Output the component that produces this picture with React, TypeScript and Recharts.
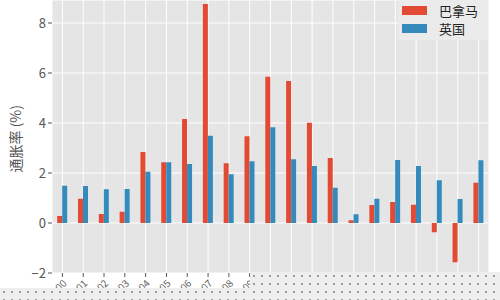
import React from 'react';
import { BarChart, Bar, XAxis, YAxis, CartesianGrid } from 'recharts';

const years = [
  '2000', '2001', '2002', '2003', '2004', '2005', '2006', '2007', '2008', '2009', '2010',
  '2011', '2012', '2013', '2014', '2015', '2016', '2017', '2018', '2019', '2020',
];
const panama = [0.28, 0.97, 0.36, 0.45, 2.84, 2.43, 4.16, 8.76, 2.39, 3.47, 5.85, 5.68, 4.01, 2.6, 0.11, 0.72, 0.84, 0.73, -0.37, -1.57, 1.61];
const uk = [1.49, 1.48, 1.35, 1.36, 2.05, 2.43, 2.36, 3.49, 1.95, 2.47, 3.83, 2.55, 2.28, 1.41, 0.35, 0.97, 2.52, 2.28, 1.71, 0.96, 2.51];
const yTicks = [-2, 0, 2, 4, 6, 8];
const legendItems = [
  { name: '巴拿马', color: '#E24A33' },
  { name: '英国', color: '#348ABD' },
];

const data = years.map((y, i) => ({ year: y, panama: panama[i], uk: uk[i] }));

const FONT = '"Noto Sans CJK SC", "DejaVu Sans", sans-serif';
const dots = {
  background: '#eeeeee',
  backgroundImage: 'radial-gradient(#9a9a9a 0.8px, transparent 1.2px)',
  backgroundSize: '8px 8px',
};

export default function App() {
  return (
    <div style={{ position: 'absolute', left: 0, top: 0, width: 500, height: 300, background: '#fff', fontFamily: FONT }}>
      <BarChart
        width={500}
        height={300}
        data={data}
        margin={{ top: 0, right: 11, bottom: 0, left: 0 }}
        barCategoryGap="25%"
        barGap={0}
      >
        {/* ggplot-ish panel */}
        <CartesianGrid stroke="#ffffff" strokeWidth={1} fill="#E5E5E5" />
        <XAxis
          dataKey="year"
          height={27}
          axisLine={false}
          tickLine={{ stroke: '#555', strokeWidth: 1 }}
          tickSize={4}
          interval={0}
          angle={-45}
          textAnchor="end"
          tick={{ fill: '#666', fontSize: 10, fontFamily: FONT }}
        />
        <YAxis
          width={52}
          domain={[-2, 8.92]}
          ticks={yTicks}
          allowDataOverflow
          axisLine={false}
          tickLine={{ stroke: '#555', strokeWidth: 1 }}
          tickSize={4}
          tickFormatter={(v: number) => (v < 0 ? `\u2212${Math.abs(v)}` : `${v}`)}
          tick={{ fill: '#555', fontSize: 13, fontFamily: FONT }}
          label={{ value: '通胀率 (%)', angle: -90, position: 'insideLeft', offset: 16, dy: 36, style: { fill: '#555', fontSize: 14, fontFamily: FONT } }}
        />
        <Bar dataKey="panama" name="巴拿马" fill="#E24A33" isAnimationActive={false} />
        <Bar dataKey="uk" name="英国" fill="#348ABD" isAnimationActive={false} />
      </BarChart>

      {/* legend box, top right inside the panel */}
      <div style={{ position: 'absolute', left: 398, top: 0, width: 90, height: 39, background: '#EBEBEB', borderRadius: 2, paddingTop: 1 }}>
        {legendItems.map((it) => (
          <div key={it.name} style={{ display: 'flex', alignItems: 'center', height: 18, paddingLeft: 4 }}>
            <span style={{ display: 'inline-block', width: 25, height: 9, background: it.color, marginRight: 12 }} />
            <span style={{ fontSize: 13, color: '#222', lineHeight: '17px' }}>{it.name}</span>
          </div>
        ))}
      </div>

      {/* dotted mask over the bottom strip, as in the source image */}
      <div style={{ position: 'absolute', left: 0, top: 288, width: 250, height: 12, ...dots }} />
      <div style={{ position: 'absolute', left: 250, top: 272, width: 250, height: 28, ...dots }} />
    </div>
  );
}
